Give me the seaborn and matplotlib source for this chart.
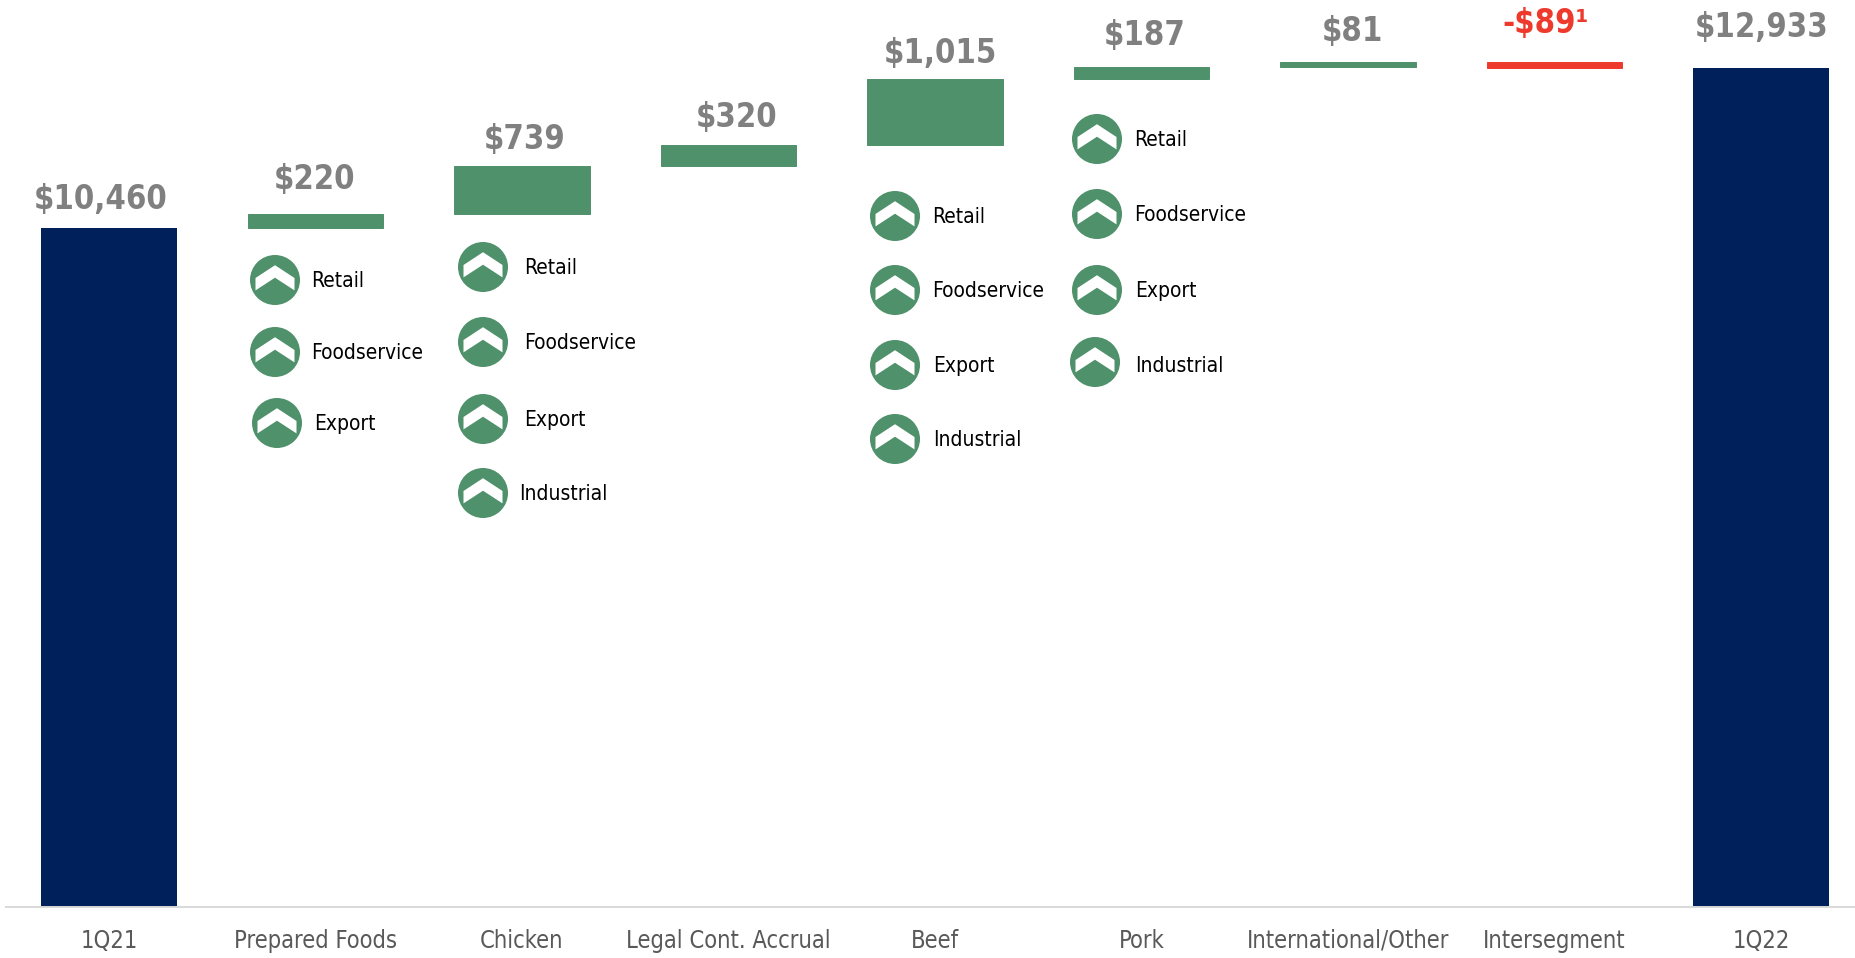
import matplotlib
matplotlib.use("Agg")
import matplotlib.pyplot as plt
import pandas as pd
import seaborn as sns
from matplotlib.patches import Circle, Polygon
from matplotlib.transforms import Affine2D

# Bridge of sales between the two quarters ($ millions)
categories = ["1Q21", "Prepared Foods", "Chicken", "Legal Cont. Accrual", "Beef",
              "Pork", "International/Other", "Intersegment", "1Q22"]
values = [10460, 220, 739, 320, 1015, 187, 81, -89, 12933]
value_labels = ["$10,460", "$220", "$739", "$320", "$1,015", "$187", "$81", "-$89¹", "$12,933"]
is_total = [True, False, False, False, False, False, False, False, True]

channels = {
    "Prepared Foods": ["Retail", "Foodservice", "Export"],
    "Chicken": ["Retail", "Foodservice", "Export", "Industrial"],
    "Beef": ["Retail", "Foodservice", "Export", "Industrial"],
    "Pork": ["Retail", "Foodservice", "Export", "Industrial"],
}

NAVY, GREEN, RED = "#00205B", "#4F916B", "#EE3A2C"
GREY_VALUE, GREY_TICK = "#808080", "#595959"
W, H = 1856, 958
BASE_PX = 907
FIRST_X, STEP_X = 109.0, 206.5

# Label anchors in pixels, measured from the top-left corner of the figure
value_xy = [(101, 199), (315, 180), (525, 139), (737, 118), (940, 53),
            (1145, 35), (1352, 32), (1546, 23), (1762, 27)]
icon_xy = {
    "Prepared Foods": [(275, 280), (275, 352), (277, 423)],
    "Chicken": [(483, 267), (483, 342), (483, 419), (483, 493)],
    "Beef": [(895, 216), (895, 290), (895, 365), (895, 439)],
    "Pork": [(1097, 139), (1097, 214), (1097, 290), (1095, 362)],
}
text_x = {
    "Prepared Foods": [311, 311, 314],
    "Chicken": [524, 524, 524, 519],
    "Beef": [932, 932, 933, 933],
    "Pork": [1134, 1134, 1135, 1135],
}
text_dy = {"Pork": [1, 1, 1, 4]}

# Waterfall: each step floats on the running total
bottoms, heights, colors = [], [], []
running = 0
for val, total in zip(values, is_total):
    if total:
        bottoms.append(0)
        heights.append(val)
        colors.append(NAVY)
        running = val
    else:
        bottoms.append(min(running, running + val))
        heights.append(abs(val))
        colors.append(GREEN if val > 0 else RED)
        running += val

sns.set_theme(style="white")
plt.rcParams["font.family"] = ["DejaVu Sans"]

fig = plt.figure(figsize=(W / 100, H / 100), dpi=100)
ax = fig.add_axes([0, 1 - BASE_PX / H, 1, BASE_PX / H])

for cat, h, b, c, total in zip(categories, heights, bottoms, colors, is_total):
    sns.barplot(data=pd.DataFrame({"cat": [cat], "h": [h]}), x="cat", y="h", order=categories,
                color=c, saturation=1, width=0.658, bottom=b, ax=ax,
                edgecolor=c, linewidth=0 if total else 0.7)

ax.set_xlim((0 - FIRST_X) / STEP_X, (W - FIRST_X) / STEP_X)
ax.set_ylim(0, BASE_PX / 0.0649)
ax.set_xlabel("")
ax.set_ylabel("")
ax.set_yticks([])
ax.set_xticks(range(len(categories)))
ax.set_xticklabels(categories, fontsize=17, color=GREY_TICK, stretch="condensed")
ax.tick_params(axis="x", length=0, pad=15.5)
for side in ("top", "left", "right"):
    ax.spines[side].set_visible(False)
ax.spines["bottom"].set_color("#D9D9D9")
ax.spines["bottom"].set_linewidth(1.4)
ax.spines["bottom"].set_bounds((6 - FIRST_X) / STEP_X, (W - FIRST_X) / STEP_X)

px = Affine2D().scale(1, -1).translate(0, H)

for (x, y), label, val in zip(value_xy, value_labels, values):
    ax.text(x, y, label, transform=px, ha="center", va="center", fontsize=23.5,
            fontweight="bold", stretch="condensed",
            color=RED if val < 0 else GREY_VALUE, clip_on=False)

CHEVRON = [(-19.5, -2), (0, -14.8), (19.5, -2), (19.5, 10.4), (0, -2.3), (-19.5, 10.4)]
for cat, names in channels.items():
    offsets = text_dy.get(cat, [1] * len(names))
    for name, (cx, cy), tx, dy in zip(names, icon_xy[cat], text_x[cat], offsets):
        ax.add_patch(Circle((cx, cy), 25, transform=px, facecolor=GREEN, edgecolor="none", clip_on=False))
        ax.add_patch(Polygon([(cx + u, cy + v) for u, v in CHEVRON], closed=True, transform=px,
                             facecolor="white", edgecolor="none", clip_on=False))
        ax.text(tx, cy + dy, name, transform=px, ha="left", va="center", fontsize=15,
                color="black", stretch="condensed", clip_on=False)

fig.savefig("out.png", dpi=100, facecolor="white")
